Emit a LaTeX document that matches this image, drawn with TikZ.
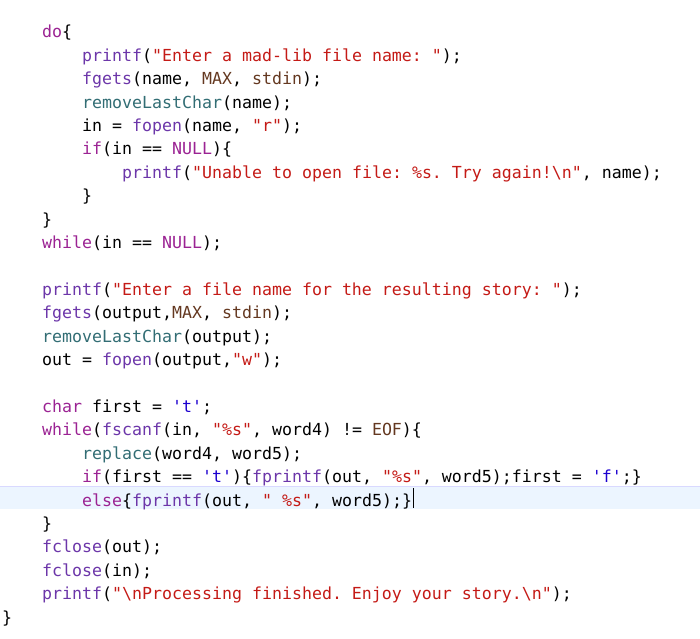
\documentclass[tikz,border=0pt]{standalone}
\usepackage{fontspec}
\setmonofont{DejaVu Sans Mono}
\definecolor{ckw}{HTML}{9B2393}
\definecolor{cst}{HTML}{C41A16}
\definecolor{cfn}{HTML}{6C36A9}
\definecolor{cus}{HTML}{326D74}
\definecolor{cmc}{HTML}{643820}
\definecolor{cch}{HTML}{1C00CF}
\definecolor{chl}{HTML}{ECF5FF}
\newcommand\Ckw[1]{\textcolor{ckw}{#1}}
\newcommand\Cst[1]{\textcolor{cst}{#1}}
\newcommand\Cfn[1]{\textcolor{cfn}{#1}}
\newcommand\Cus[1]{\textcolor{cus}{#1}}
\newcommand\Cmc[1]{\textcolor{cmc}{#1}}
\newcommand\Cch[1]{\textcolor{cch}{#1}}
\begin{document}
\begin{tikzpicture}[x=1bp,y=-1bp,
  codeline/.style={anchor=base west,inner sep=0pt,font=\ttfamily\fontsize{16.6bp}{20bp}\selectfont}]
\useasboundingbox (0,0) rectangle (700,639);
\fill[chl] (0,486) rectangle (700,509);
\draw[blue!15] (0,486) -- (700,486);
\def\L#1#2#3#4{\node[codeline] (#1) at (#2,{#3+6}) {#4};}
\L{l1}{42}{32}{\Ckw{do}\{}
\L{l2}{82}{55.4}{\Cfn{printf}(\Cst{"Enter a mad-lib file name: "});}
\L{l3}{82}{78.8}{\Cfn{fgets}(name, \Cmc{MAX}, \Cmc{stdin});}
\L{l4}{82}{102.2}{\Cus{removeLastChar}(name);}
\L{l5}{82}{125.6}{in = \Cfn{fopen}(name, \Cst{"r"});}
\L{l6}{82}{149}{\Ckw{if}(in == \Ckw{NULL})\{}
\L{l7}{122}{172.4}{\Cfn{printf}(\Cst{"Unable to open file: \%s. Try again!\textbackslash n"}, name);}
\L{l8}{82}{195.8}{\}}
\L{l9}{42}{219.2}{\}}
\L{l10}{42}{242.6}{\Ckw{while}(in == \Ckw{NULL});}
\L{l12}{42}{289.4}{\Cfn{printf}(\Cst{"Enter a file name for the resulting story: "});}
\L{l13}{42}{312.8}{\Cfn{fgets}(output,\Cmc{MAX}, \Cmc{stdin});}
\L{l14}{42}{336.2}{\Cus{removeLastChar}(output);}
\L{l15}{42}{359.6}{out = \Cfn{fopen}(output,\Cst{"w"});}
\L{l17}{42}{406.4}{\Ckw{char} first = \Cch{'t'};}
\L{l18}{42}{429.8}{\Ckw{while}(\Cfn{fscanf}(in, \Cst{"\%s"}, word4) != \Cmc{EOF})\{}
\L{l19}{82}{453.2}{\Cus{replace}(word4, word5);}
\L{l20}{82}{476.6}{\Ckw{if}(first == \Cch{'t'})\{\Cfn{fprintf}(out, \Cst{"\%s"}, word5);first = \Cch{'f'};\}}
\L{l21}{82}{500}{\Ckw{else}\{\Cfn{fprintf}(out, \Cst{" \%s"}, word5);\}}
\L{l22}{42}{523.4}{\}}
\L{l23}{42}{546.8}{\Cfn{fclose}(out);}
\L{l24}{42}{570.2}{\Cfn{fclose}(in);}
\L{l25}{42}{593.6}{\Cfn{printf}(\Cst{"\textbackslash nProcessing finished. Enjoy your story.\textbackslash n"});}
\L{l26}{2}{617}{\}}
\draw[line width=1.2bp] ([xshift=1bp]l21.east |- 0,488) -- ([xshift=1bp]l21.east |- 0,508);
\end{tikzpicture}
\end{document}
